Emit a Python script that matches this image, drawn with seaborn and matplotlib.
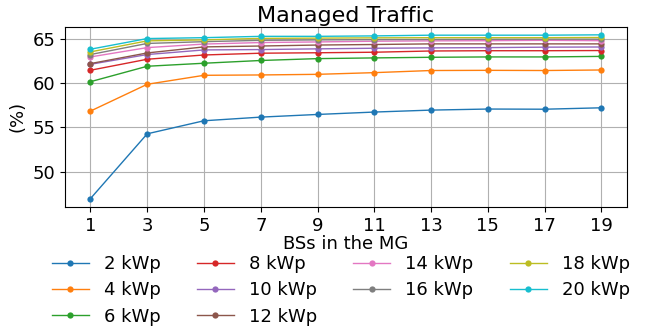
import numpy as np
import pandas as pd
import seaborn as sns
import matplotlib
matplotlib.use("Agg")
import matplotlib.pyplot as plt
from matplotlib.ticker import MultipleLocator

bss = [1, 3, 5, 7, 9, 11, 13, 15, 17, 19]
series_labels = ["2 kWp", "4 kWp", "6 kWp", "8 kWp", "10 kWp",
                 "12 kWp", "14 kWp", "16 kWp", "18 kWp", "20 kWp"]
v2 = [46.97, 54.27, 55.74, 56.15, 56.45, 56.72, 56.94, 57.06, 57.04, 57.20]
v4 = [56.83, 59.85, 60.86, 60.90, 60.97, 61.16, 61.40, 61.42, 61.40, 61.46]
v6 = [60.14, 61.88, 62.22, 62.53, 62.74, 62.82, 62.89, 62.93, 62.93, 62.99]
v8 = [61.43, 62.67, 63.15, 63.35, 63.40, 63.46, 63.60, 63.63, 63.63, 63.65]
v10 = [62.10, 63.20, 63.72, 63.76, 63.84, 63.91, 63.95, 63.98, 64.03, 64.05]
v12 = [62.18, 63.38, 64.06, 64.16, 64.27, 64.33, 64.40, 64.40, 64.40, 64.40]
v14 = [62.93, 63.98, 64.38, 64.55, 64.62, 64.70, 64.74, 64.76, 64.80, 64.76]
v16 = [63.20, 64.45, 64.65, 64.80, 64.85, 64.88, 64.90, 64.92, 64.93, 64.93]
v18 = [63.50, 64.74, 64.85, 65.02, 65.05, 65.08, 65.10, 65.10, 65.10, 65.12]
v20 = [63.80, 65.00, 65.10, 65.25, 65.25, 65.30, 65.38, 65.38, 65.38, 65.42]
all_vals = [v2, v4, v6, v8, v10, v12, v14, v16, v18, v20]

rows = []
for lab, vals in zip(series_labels, all_vals):
    for x, y in zip(bss, vals):
        rows.append({"BSs": x, "val": y, "series": lab})
df = pd.DataFrame(rows)

plt.rcParams['font.family'] = ['DejaVu Sans']
fig = plt.figure(figsize=(6.49, 3.33), dpi=100)
ax = fig.add_axes([0.100, 0.379, 0.866, 0.541])

sns.lineplot(data=df, x="BSs", y="val", hue="series", hue_order=series_labels,
             palette="tab10", marker="o", markersize=4.5, markeredgewidth=0,
             linewidth=1.0, ax=ax)

ax.set_xticks(bss)
ax.yaxis.set_major_locator(MultipleLocator(5))
ax.tick_params(axis='both', labelsize=13)
ax.set_xlabel("BSs in the MG", fontsize=13, labelpad=0)
ax.set_ylabel("(%)", fontsize=13)
ax.set_title("Managed Traffic", fontsize=16, pad=3)
ax.grid(True, color="#b0b0b0", linewidth=0.8)
ax.set_axisbelow(True)

handles, labels = ax.get_legend_handles_labels()
ax.legend(handles, labels, ncol=4, loc="upper center",
          bbox_to_anchor=(0.525, 0.282), bbox_transform=fig.transFigure,
          frameon=False, fontsize=13, handlelength=2.05, columnspacing=2.0,
          labelspacing=0.45, handletextpad=0.83)

fig.savefig("out.png", dpi=100)
